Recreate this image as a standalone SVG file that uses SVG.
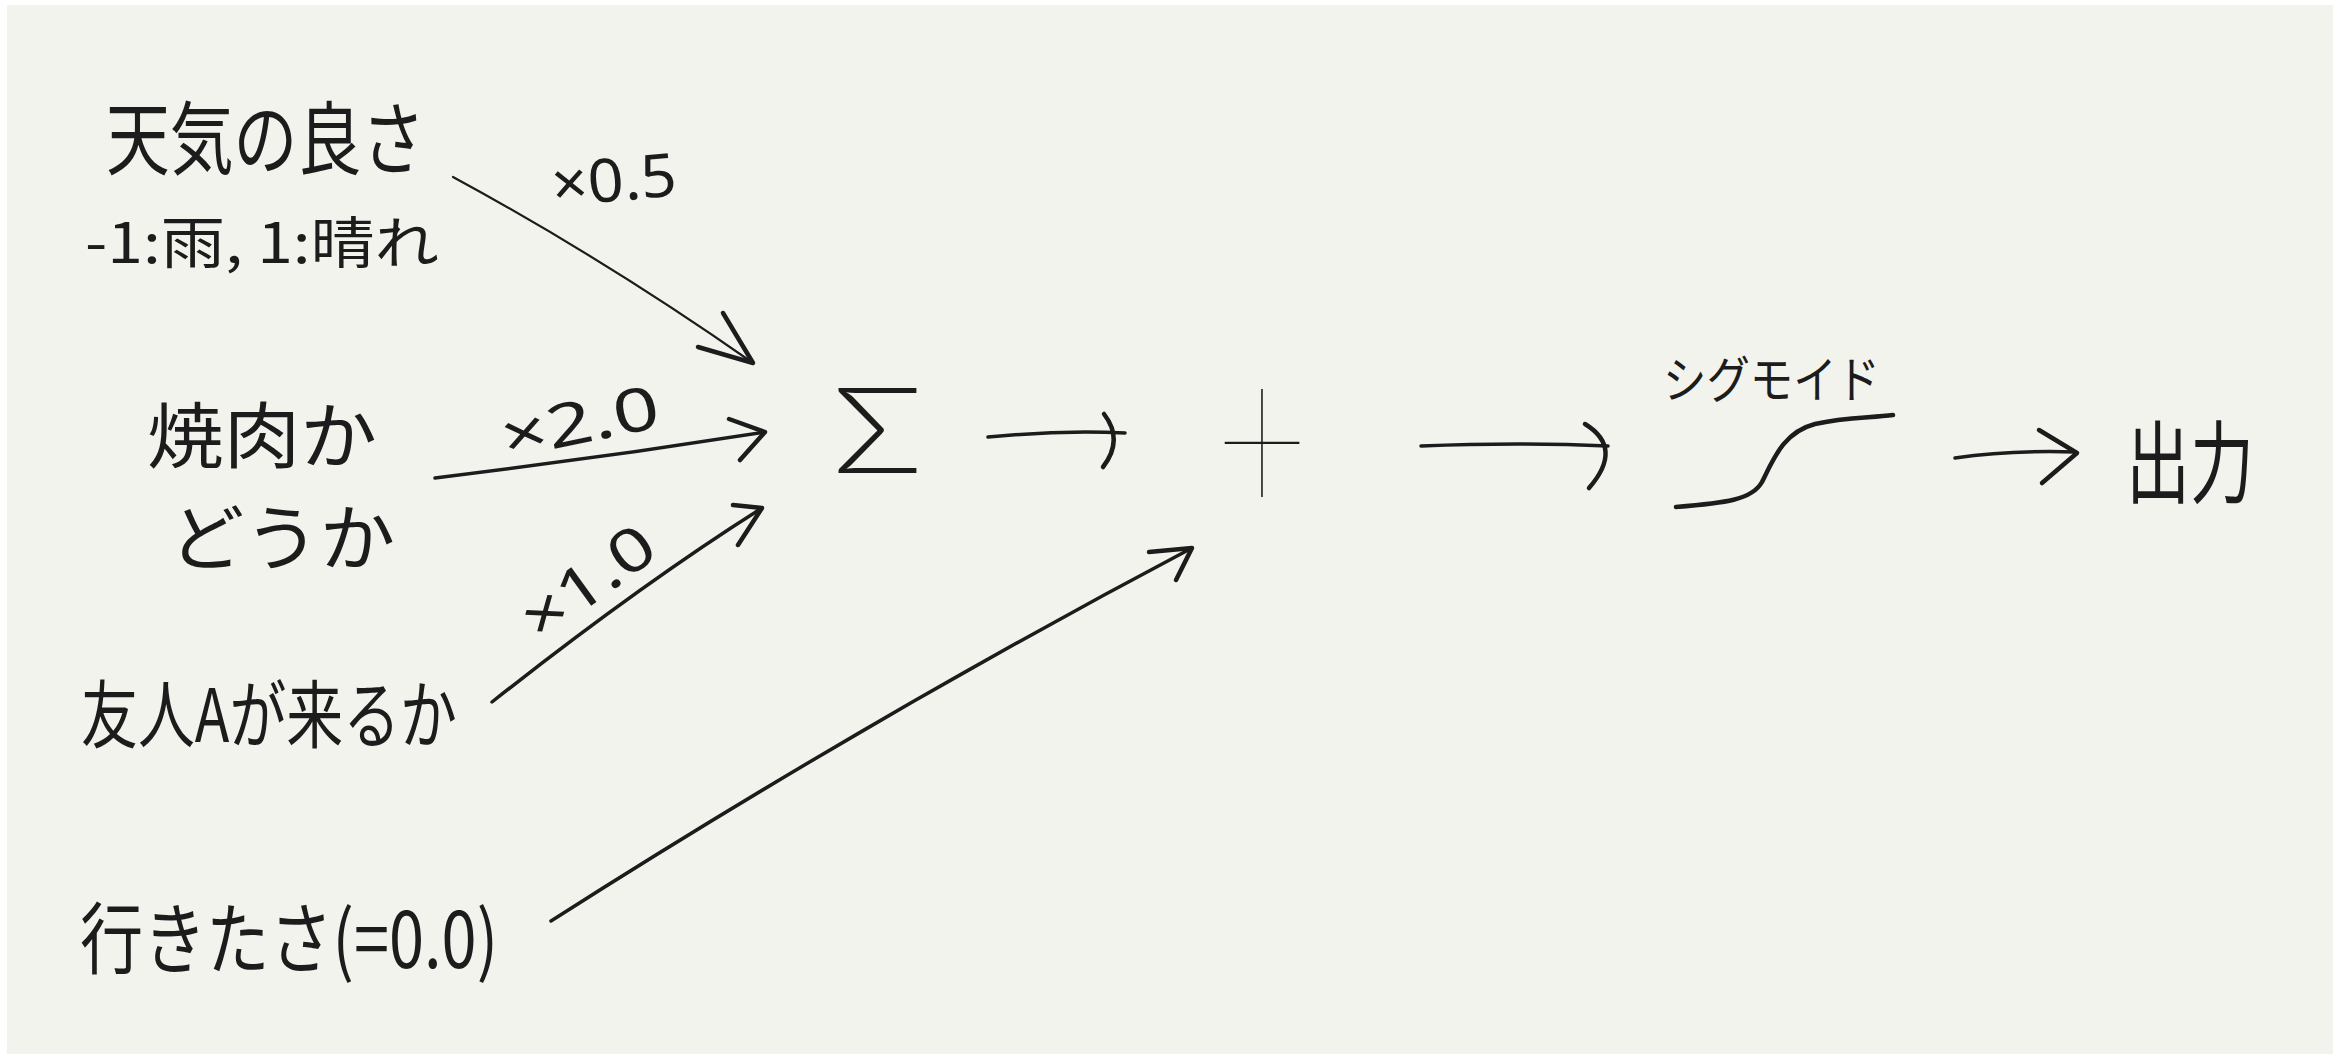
<svg xmlns="http://www.w3.org/2000/svg" width="2333" height="1054" viewBox="0 0 2333 1054">
  <style>
    .jp { font-family: "Noto Sans CJK JP", "Noto Sans", sans-serif; fill: #1c1c1c; }
    .lbl { font-family: "Noto Sans", "Liberation Sans", sans-serif; fill: #1c1c1c; }
    .sym { font-family: Lato, "Liberation Sans", sans-serif; fill: #1c1c1c; }
    .ln { fill: none; stroke: #1c1c1c; stroke-linecap: round; stroke-linejoin: round; stroke-width: 3.5; }
    .thin { stroke-width: 2.2; }
    .curve { stroke-width: 4.5; }
    .hd { fill: none; stroke: #1c1c1c; stroke-linecap: round; stroke-linejoin: round; stroke-width: 4.5; }
  </style>
  <rect x="0" y="0" width="2333" height="1054" fill="#ffffff"/>
  <rect x="7" y="5" width="2326" height="1049" fill="#f3f3ee"/>

  <g id="node-weather">
    <text class="jp" x="106" y="168" font-size="80" textLength="319" lengthAdjust="spacingAndGlyphs">天気の良さ</text>
    <text class="jp" x="85" y="263" font-size="56" textLength="354" lengthAdjust="spacingAndGlyphs">-1:雨, 1:晴れ</text>
  </g>
  <g id="node-yakiniku">
    <text class="jp" font-size="72"><tspan x="147" y="462" textLength="230" lengthAdjust="spacingAndGlyphs">焼肉か</tspan><tspan x="169" y="564" textLength="226" lengthAdjust="spacingAndGlyphs">どうか</tspan></text>
  </g>
  <g id="node-friend">
    <text class="jp" x="81" y="742" font-size="74" textLength="376" lengthAdjust="spacingAndGlyphs">友人Aが来るか</text>
  </g>
  <g id="node-bias">
    <text class="jp" x="80" y="968" font-size="78" textLength="418" lengthAdjust="spacingAndGlyphs">行きたさ(=0.0)</text>
  </g>
  <g id="node-sum">
    <text class="sym" x="878" y="473" font-size="120" font-weight="300" text-anchor="middle" textLength="90" lengthAdjust="spacingAndGlyphs">Σ</text>
  </g>
  <g id="node-plus">
    <text class="sym" transform="translate(1262,518) scale(0.72,1)" x="0" y="0" font-size="225" font-weight="200" text-anchor="middle">+</text>
  </g>
  <g id="node-sigmoid">
    <text class="jp" x="1663" y="398" font-size="50" textLength="217" lengthAdjust="spacingAndGlyphs">シグモイド</text>
    <path class="ln curve" d="M1676,507 C1725,503 1752,500 1762,482 C1774,458 1784,432 1815,424 C1845,417 1870,418 1893,415"/>
  </g>
  <g id="node-output">
    <text class="jp" x="2126" y="496" font-size="90" textLength="128" lengthAdjust="spacingAndGlyphs">出力</text>
  </g>

  <g id="connectors">
    <!-- weather -> sum -->
    <path class="ln thin" d="M453,177 Q606,260 753,363"/>
    <path class="hd" d="M723,313 L753,363 L698,347"/>
    <text class="lbl" transform="translate(614,180) rotate(-5)" x="0" y="21" font-size="60" text-anchor="middle" textLength="125" lengthAdjust="spacingAndGlyphs">×0.5</text>
    <!-- yakiniku -> sum -->
    <path class="ln" d="M435,478 Q600,458 765,432"/>
    <path class="hd" d="M729,419 L765,432 L740,460"/>
    <text class="lbl" transform="translate(580,422) rotate(-11.7)" x="0" y="21" font-size="60" text-anchor="middle" textLength="160" lengthAdjust="spacingAndGlyphs">×2.0</text>
    <!-- friend -> sum -->
    <path class="ln" d="M492,702 Q640,585 762,508"/>
    <path class="hd" d="M733,505 L762,508 L738,545"/>
    <text class="lbl" transform="translate(588,582) rotate(-36)" x="0" y="21" font-size="60" text-anchor="middle" textLength="150" lengthAdjust="spacingAndGlyphs">×1.0</text>
    <!-- bias -> plus -->
    <path class="ln" d="M551,921 Q866,720 1192,548"/>
    <path class="hd" d="M1149,552 L1192,548 L1176,580"/>
    <!-- sum -> plus -->
    <path class="ln" d="M988,437 Q1060,430 1125,433"/>
    <path class="hd" d="M1104,414 Q1124,440 1103,467"/>
    <!-- plus -> sigmoid -->
    <path class="ln" d="M1421,446 Q1520,442 1608,446"/>
    <path class="hd" d="M1585,424 Q1624,448 1589,488"/>
    <!-- sigmoid -> output -->
    <path class="ln" d="M1955,458 Q2010,450 2075,452"/>
    <path class="hd" d="M2039,430 L2077,453 L2042,483"/>
  </g>
</svg>
